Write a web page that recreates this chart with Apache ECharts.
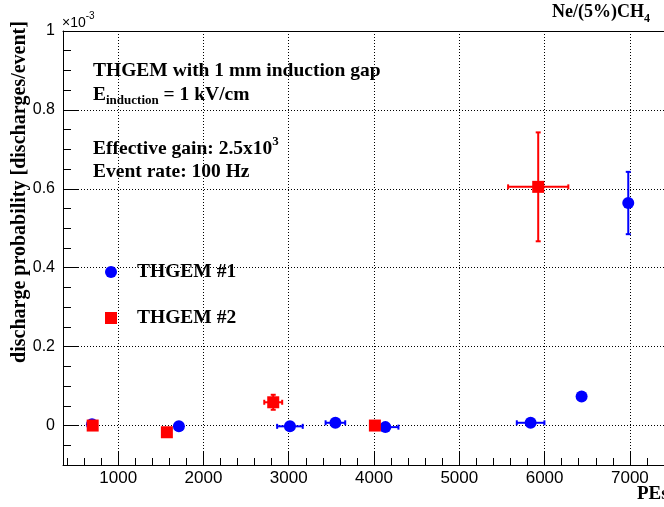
<!DOCTYPE html>
<html><head><meta charset="utf-8">
<script src="https://cdn.jsdelivr.net/npm/echarts@6/dist/echarts.min.js"></script>
<style>html,body{margin:0;padding:0;background:#fff}#c{width:664px;height:507px}</style>
</head><body><div id="c"></div>
<script>
// ---- data (x in PEs, y in units of 1e-3 discharges/event) ----
const seriesNames = ['THGEM #1', 'THGEM #2'];
const gem1X    = [693, 1712, 3014, 3547, 4133, 5836, 6434, 6981];
const gem1Y    = [0.003, -0.002, -0.002, 0.007, -0.004, 0.007, 0.0735, 0.564];
const gem1XErr = [0, 0, 150, 115, 153, 162, 0, 0];
const gem1YErr = [0, 0, 0, 0, 0, 0, 0, 0.079];
const gem2X    = [701, 1571, 2818, 4010, 5925];
const gem2Y    = [0.0, -0.017, 0.059, 0.0, 0.605];
const gem2XErr = [0, 0, 105, 0, 353];
const gem2YErr = [0, 0, 0.019, 0, 0.138];
const xRange = [353, 7400];
const yRange = [-0.1, 1];

const SERIF = "'Liberation Serif','Times New Roman',serif";
const SANS = "'Liberation Sans',Arial,sans-serif";

const chart = echarts.init(document.getElementById('c'), null, {renderer: 'canvas'});

function rows(xs, ys, xe, ye) { return xs.map((x, i) => [x, ys[i], xe[i], ye[i]]); }
function errRenderer(color) {
  return function (params, api) {
    const x = api.value(0), y = api.value(1), ex = api.value(2), ey = api.value(3);
    const c = api.coord([x, y]);
    const st = {stroke: color, lineWidth: 2};
    const ch = [];
    const cap = 2.5;
    if (ex > 0) {
      const l = api.coord([x - ex, y])[0], r = api.coord([x + ex, y])[0];
      ch.push({type: 'line', shape: {x1: l, y1: c[1], x2: r, y2: c[1]}, style: st});
      ch.push({type: 'line', shape: {x1: l, y1: c[1] - cap, x2: l, y2: c[1] + cap}, style: st});
      ch.push({type: 'line', shape: {x1: r, y1: c[1] - cap, x2: r, y2: c[1] + cap}, style: st});
    }
    if (ey > 0) {
      const t = api.coord([x, y + ey])[1], b = api.coord([x, y - ey])[1];
      ch.push({type: 'line', shape: {x1: c[0], y1: t, x2: c[0], y2: b}, style: st});
      ch.push({type: 'line', shape: {x1: c[0] - cap, y1: t, x2: c[0] + cap, y2: t}, style: st});
      ch.push({type: 'line', shape: {x1: c[0] - cap, y1: b, x2: c[0] + cap, y2: b}, style: st});
    }
    return {type: 'group', children: ch};
  };
}

// inline text runs (sub/superscripts) laid out with canvas measurement
const mctx = document.createElement('canvas').getContext('2d');
function run(x, y, parts) {
  const out = [];
  let cx = x;
  parts.forEach(p => {
    const font = (p.bold === false ? '' : 'bold ') + p.size + 'px ' + p.family;
    mctx.font = font;
    out.push({type: 'text', x: cx, y: y + (p.dy || 0), silent: true,
      style: {text: p.t, font: font, fill: '#000', textAlign: 'left', textVerticalAlign: 'middle', verticalAlign: 'middle'}});
    cx += mctx.measureText(p.t).width;
  });
  return out;
}

const graphics = [].concat(
  run(93, 71, [{t: 'THGEM with 1 mm induction gap', size: 19.5, family: SERIF}]),
  run(93, 95, [{t: 'E', size: 19.5, family: SERIF}, {t: 'induction', size: 13, family: SERIF, dy: 6}, {t: ' = 1 kV/cm', size: 19.5, family: SERIF}]),
  run(93, 149, [{t: 'Effective gain: 2.5x10', size: 19.5, family: SERIF}, {t: '3', size: 13, family: SERIF, dy: -7}]),
  run(93, 172, [{t: 'Event rate: 100 Hz', size: 19.5, family: SERIF}]),
  run(552, 12, [{t: 'Ne/(5%)CH', size: 18, family: SERIF}, {t: '4', size: 12, family: SERIF, dy: 7}]),
  run(62, 23, [{t: '\u00d710', size: 14, family: SANS, bold: false}, {t: '-3', size: 10, family: SANS, bold: false, dy: -7}]),
  run(637, 494, [{t: 'PEs', size: 19, family: SERIF}]),
  [{type: 'text', x: 20, y: 192, rotation: Math.PI / 2, silent: true,
    style: {text: 'discharge probability [discharges/event]', font: 'bold 20px ' + SERIF, fill: '#000',
      textAlign: 'center', textVerticalAlign: 'middle', verticalAlign: 'middle'}}]
);

const dotted = {color: '#000', width: 1, type: [1, 2]};
const fmt = v => String(+v.toFixed(4));

chart.setOption({
  animation: false,
  backgroundColor: '#fff',
  grid: {left: 63, top: 31, bottom: 42, right: -12},
  legend: {
    data: seriesNames, orient: 'vertical', left: 100, top: 257, itemWidth: 12, itemHeight: 12, itemGap: 26,
    selectedMode: false,
    textStyle: {fontFamily: SERIF, fontWeight: 'bold', fontSize: 19.5, color: '#000', lineHeight: 20, padding: [0, 0, 0, 15]}
  },
  xAxis: [{
    type: 'value', min: xRange[0], max: xRange[1], position: 'bottom',
    axisLine: {show: true, onZero: false, lineStyle: {color: '#000', width: 1}},
    axisTick: {show: true, inside: true, length: 13, lineStyle: {color: '#000', width: 1}},
    minorTick: {show: true, splitNumber: 5, length: 7, lineStyle: {color: '#000', width: 1}},
    axisLabel: {showMinLabel: false, showMaxLabel: false, fontFamily: SANS, fontSize: 17, color: '#000', margin: 5, formatter: fmt},
    splitLine: {show: true, lineStyle: dotted}
  }, {
    type: 'value', min: xRange[0], max: xRange[1], position: 'top',
    axisLine: {show: true, onZero: false, lineStyle: {color: '#000', width: 1}},
    axisTick: {show: false}, axisLabel: {show: false}, splitLine: {show: false}
  }],
  yAxis: {
    type: 'value', min: yRange[0], max: yRange[1], position: 'left',
    axisLine: {show: true, onZero: false, lineStyle: {color: '#000', width: 1}},
    axisTick: {show: true, inside: true, length: 16, lineStyle: {color: '#000', width: 1}},
    minorTick: {show: true, splitNumber: 4, length: 8, lineStyle: {color: '#000', width: 1}},
    axisLabel: {showMinLabel: false, fontFamily: SANS, fontSize: 16, color: '#000', margin: 8, formatter: fmt},
    splitLine: {show: true, lineStyle: dotted}
  },
  graphic: graphics,
  series: [
    {name: 'err1', type: 'custom', renderItem: errRenderer('#0000ff'), data: rows(gem1X, gem1Y, gem1XErr, gem1YErr), z: 2, silent: true},
    {name: 'err2', type: 'custom', renderItem: errRenderer('#ff0000'), data: rows(gem2X, gem2Y, gem2XErr, gem2YErr), z: 2, silent: true},
    {name: seriesNames[0], type: 'scatter', symbol: 'circle', symbolSize: 12, itemStyle: {color: '#0000ff', opacity: 1},
      data: gem1X.map((x, i) => [x, gem1Y[i]]), z: 3},
    {name: seriesNames[1], type: 'scatter', symbol: 'rect', symbolSize: 12, itemStyle: {color: '#ff0000', opacity: 1},
      data: gem2X.map((x, i) => [x, gem2Y[i]]), z: 4}
  ]
});
</script>
</body></html>
